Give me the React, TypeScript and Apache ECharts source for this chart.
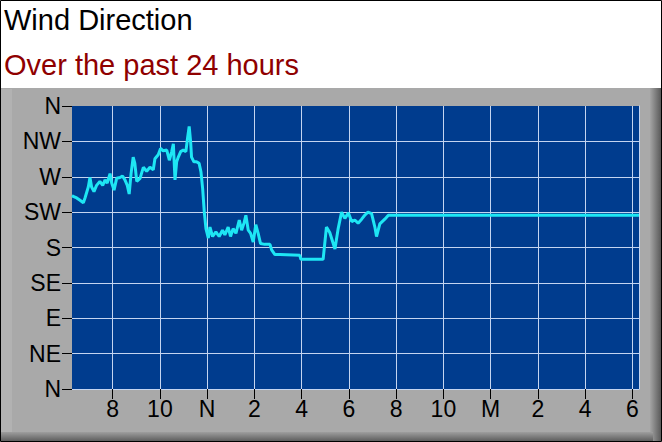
import React, { useEffect, useRef } from 'react';
import * as echarts from 'echarts';

// hour of day (values past 24 are the next morning) and direction in degrees
const hours = [
  6.28, 6.33, 6.48, 6.62, 6.76, 6.83, 6.97, 7.04, 7.11, 7.21, 7.32, 7.46, 7.58, 7.68, 7.77, 7.89,
  7.96, 8.06, 8.17, 8.31, 8.42, 8.52, 8.62, 8.7, 8.78, 8.87, 8.94, 9.02, 9.16, 9.3, 9.44, 9.58,
  9.72, 9.79, 9.93, 10.03, 10.14, 10.29, 10.4, 10.5, 10.57, 10.64, 10.71, 10.78, 10.88, 10.99,
  11.1, 11.17, 11.24, 11.3, 11.34, 11.44, 11.55, 11.66, 11.74, 11.81, 11.88, 11.95, 12.05, 12.12,
  12.23, 12.37, 12.51, 12.65, 12.75, 12.89, 12.99, 13.1, 13.22, 13.36, 13.46, 13.56, 13.64, 13.74,
  13.84, 13.95, 14.06, 14.16, 14.26, 14.44, 14.66, 14.73, 14.87, 15.08, 15.92, 15.97, 16.91, 17.05,
  17.19, 17.41, 17.54, 17.69, 17.83, 17.98, 18.12, 18.25, 18.39, 18.54, 18.67, 18.81, 18.96, 19.1,
  19.17, 19.31, 19.52, 19.67, 30.28
];
const directions = [
  246, 245, 243, 240, 237, 243, 257, 269, 257, 251, 259, 264, 259, 266, 262, 274,
  262, 253, 268, 269, 271, 266, 259, 248, 274, 295, 287, 264, 268, 282, 277, 282,
  279, 293, 298, 306, 303, 304, 291, 302, 312, 266, 289, 295, 302, 304,
  302, 319, 334, 315, 295, 289, 289, 287, 276, 255, 225, 204, 192, 206,
  194, 200, 194, 202, 196, 206, 194, 204, 198, 215, 202, 211, 221, 202,
  198, 187, 209, 198, 185, 184, 184, 177, 171, 171, 170, 165, 165, 206,
  199, 178, 203, 225, 217, 224, 213, 215, 211, 216, 221, 225, 223, 206,
  194, 210, 216, 221, 221
];

const xTickValues = [8, 10, 12, 14, 16, 18, 20, 22, 24, 26, 28, 30];
const xTickLabels = ['8', '10', 'N', '2', '4', '6', '8', '10', 'M', '2', '4', '6'];
const yTickLabels = ['N', 'NE', 'E', 'SE', 'S', 'SW', 'W', 'NW', 'N'];

const FONT = '"Liberation Sans", Arial, sans-serif';

export default function App() {
  const chartRef = useRef<HTMLDivElement>(null);

  useEffect(() => {
    if (!chartRef.current) return;
    document.body.style.margin = '0';
    const chart = echarts.init(chartRef.current, null, { renderer: 'svg' });

    const option: any = {
      animation: false,
      backgroundColor: '#ffffff',
      title: [
        {
          text: 'Wind Direction',
          left: 4,
          top: 5,
          padding: 0,
          textStyle: { fontFamily: FONT, fontSize: 29, fontWeight: 'normal', color: '#000000' }
        },
        {
          text: 'Over the past 24 hours',
          left: 4,
          top: 50,
          padding: 0,
          textStyle: { fontFamily: FONT, fontSize: 29, fontWeight: 'normal', color: '#8f0000' }
        }
      ],
      graphic: [
        { type: 'rect', z: -10, shape: { x: 1, y: 88, width: 660, height: 353 }, style: { fill: '#a9a9a9' } },
        { type: 'rect', z: -9, shape: { x: 1, y: 89, width: 11, height: 343 }, style: { fill: '#b2b2b2' } },
        {
          type: 'rect', z: -9, shape: { x: 650, y: 88, width: 11, height: 353 },
          style: { fill: new echarts.graphic.LinearGradient(0, 0, 1, 0, [
            { offset: 0, color: '#a4a4a4' }, { offset: 1, color: '#5a5a5a' }
          ]) }
        },
        {
          type: 'rect', z: -9, shape: { x: 1, y: 432, width: 652, height: 9 },
          style: { fill: new echarts.graphic.LinearGradient(0, 0, 0, 1, [
            { offset: 0, color: '#9e9e9e' }, { offset: 1, color: '#5e5e5e' }
          ]) }
        },
        { type: 'rect', z: 100, shape: { x: 0.5, y: 0.5, width: 661, height: 441 }, style: { fill: 'none', stroke: '#000000', lineWidth: 1 } }
      ],
      grid: {
        left: 72,
        top: 106,
        width: 567,
        height: 283,
        show: true,
        backgroundColor: '#003c8e',
        borderWidth: 0
      },
      xAxis: {
        type: 'value',
        min: 6.28,
        max: 30.28,
        axisLine: { show: false },
        axisTick: {
          show: true,
          customValues: xTickValues,
          length: 10,
          lineStyle: { color: '#000000', width: 1 }
        },
        axisLabel: {
          customValues: xTickValues,
          formatter: (v: number) => xTickLabels[xTickValues.indexOf(Math.round(v))] ?? '',
          margin: 8,
          fontFamily: FONT,
          fontSize: 23,
          color: '#000000'
        },
        splitLine: { show: true, lineStyle: { color: '#c4d4f0', width: 1 } }
      },
      yAxis: [
        {
          type: 'value',
          min: 0,
          max: 360,
          interval: 45,
          axisLine: { show: false },
          axisTick: { show: true, length: 10, lineStyle: { color: '#000000', width: 1 } },
          axisLabel: {
            formatter: (v: number) => yTickLabels[Math.round(v / 45)] ?? '',
            margin: 11,
            fontFamily: FONT,
            fontSize: 23,
            color: '#000000'
          },
          splitLine: { show: true, showMaxLine: false, lineStyle: { color: '#c4d4f0', width: 1 } }
        },
        {
          type: 'value',
          position: 'right',
          min: 0,
          max: 360,
          interval: 45,
          axisLine: { show: true, lineStyle: { color: '#c4d4f0', width: 1 } },
          axisTick: { show: false },
          axisLabel: { show: false },
          splitLine: { show: false }
        }
      ],
      series: [
        {
          type: 'line',
          data: hours.map((h, i) => [h, directions[i]]),
          showSymbol: false,
          lineStyle: { color: '#1ee6f4', width: 3 },
          clip: true
        }
      ]
    };

    chart.setOption(option);
    return () => {
      chart.dispose();
    };
  }, []);

  return <div ref={chartRef} style={{ width: '662px', height: '442px' }} />;
}
